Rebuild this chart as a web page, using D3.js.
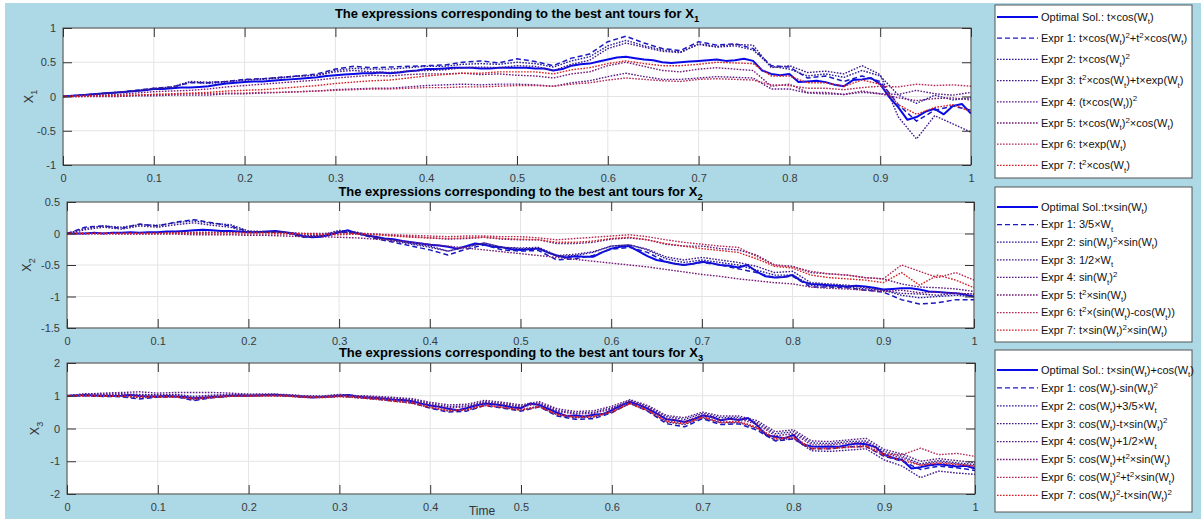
<!DOCTYPE html>
<html>
<head>
<meta charset="utf-8">
<script src="https://cdn.jsdelivr.net/npm/d3@7"></script>
<style>
  body { margin: 0; background: #fff; }
  svg { display: block; font-family: "Liberation Sans", Arial, sans-serif; }
</style>
</head>
<body>
<svg id="chart" width="1201" height="519"></svg>
<script>
// sample grids (time)
const tFine = d3.range(0, 101).map(i => i / 100);
const tCoarse = d3.range(0, 51).map(i => i / 50);

const xTicks = [0, 0.1, 0.2, 0.3, 0.4, 0.5, 0.6, 0.7, 0.8, 0.9, 1];
const yTicks1 = [-1, -0.5, 0, 0.5, 1];
const yTicks2 = [-1.5, -1, -0.5, 0, 0.5];
const yTicks3 = [-2, -1, 0, 1, 2];

// ---- X1 ----
const x1Opt = [0,0.01,0.02,0.03,0.04,0.05,0.06,0.07,0.08,0.09,
  0.11,0.11,0.12,0.13,0.13,0.14,0.15,0.17,0.19,0.20,
  0.21,0.22,0.22,0.23,0.24,0.25,0.26,0.27,0.28,0.30,
  0.31,0.32,0.33,0.34,0.34,0.35,0.34,0.35,0.37,0.38,
  0.40,0.40,0.41,0.42,0.42,0.42,0.41,0.41,0.42,0.42,
  0.42,0.42,0.41,0.41,0.38,0.40,0.45,0.47,0.48,0.51,
  0.54,0.57,0.58,0.56,0.54,0.53,0.50,0.49,0.50,0.51,
  0.52,0.53,0.54,0.52,0.53,0.55,0.52,0.38,0.33,0.31,
  0.33,0.21,0.22,0.23,0.21,0.17,0.15,0.24,0.25,0.27,
  0.18,-0.01,-0.16,-0.34,-0.30,-0.22,-0.18,-0.26,-0.14,-0.11,
  -0.25];
const x1Expr1 = [0,0.02,0.04,0.06,0.09,0.12,0.14,0.20,0.20,0.22,
  0.25,0.26,0.28,0.30,0.33,0.40,0.44,0.42,0.43,0.44,
  0.45,0.46,0.50,0.52,0.49,0.55,0.51,0.45,0.56,0.62,
  0.80,0.88,0.78,0.70,0.67,0.80,0.75,0.77,0.70,0.45,
  0.43,0.27,0.30,0.22,0.30,0.22,-0.12,-0.36,-0.20,-0.14,
  -0.20];
const x1Expr2 = [0,0.02,0.04,0.06,0.08,0.11,0.13,0.21,0.19,0.21,
  0.24,0.25,0.27,0.30,0.31,0.38,0.41,0.40,0.40,0.42,
  0.44,0.44,0.47,0.48,0.47,0.50,0.48,0.43,0.52,0.58,
  0.74,0.82,0.74,0.68,0.65,0.76,0.72,0.74,0.68,0.44,
  0.40,0.30,0.33,0.28,0.38,0.30,0.02,-0.10,0.02,-0.05,
  -0.02];
const x1Expr3 = [0,0.02,0.04,0.06,0.08,0.12,0.14,0.22,0.21,0.22,
  0.24,0.26,0.28,0.30,0.31,0.36,0.38,0.36,0.35,0.37,
  0.38,0.39,0.42,0.43,0.42,0.45,0.44,0.38,0.47,0.53,
  0.70,0.78,0.72,0.66,0.64,0.77,0.73,0.76,0.75,0.42,
  0.45,0.35,0.37,0.33,0.45,0.32,-0.30,-0.62,-0.28,-0.40,
  -0.52];
const x1Expr4 = [0,0,0,0,0.01,0.01,0.02,0.02,0.02,0.04,
  0.04,0.05,0.06,0.07,0.08,0.10,0.11,0.12,0.12,0.14,
  0.16,0.17,0.18,0.17,0.18,0.18,0.17,0.15,0.20,0.23,
  0.29,0.34,0.29,0.25,0.25,0.27,0.29,0.28,0.27,0.11,
  0.11,0.05,0.04,0.03,0.06,0.04,0.03,0.09,0.04,0.02,
  0.06];
const x1Expr5 = [0,0.01,0.02,0.03,0.05,0.07,0.08,0.09,0.11,0.14,
  0.16,0.18,0.20,0.22,0.24,0.27,0.29,0.31,0.30,0.32,
  0.33,0.33,0.34,0.32,0.33,0.31,0.30,0.27,0.33,0.36,
  0.45,0.50,0.44,0.38,0.36,0.40,0.42,0.40,0.38,0.15,
  0.18,0.06,0.06,0.03,0.08,0.04,-0.02,-0.06,-0.03,-0.02,
  -0.05];
const x1Expr6 = [0,0.01,0.01,0.02,0.02,0.03,0.03,0.04,0.04,0.05,
  0.05,0.06,0.06,0.07,0.08,0.09,0.10,0.11,0.11,0.12,
  0.13,0.13,0.14,0.14,0.15,0.16,0.16,0.15,0.18,0.20,
  0.24,0.27,0.25,0.23,0.22,0.25,0.26,0.25,0.24,0.17,
  0.16,0.12,0.12,0.10,0.13,0.15,0.14,0.18,0.16,0.17,
  0.15];
const x1Expr7 = [0,0,0.01,0.01,0.02,0.03,0.04,0.05,0.06,0.08,
  0.09,0.10,0.12,0.14,0.16,0.19,0.21,0.23,0.24,0.27,
  0.30,0.32,0.34,0.34,0.36,0.36,0.36,0.33,0.39,0.42,
  0.48,0.52,0.48,0.45,0.45,0.47,0.50,0.49,0.48,0.30,
  0.30,0.20,0.20,0.15,0.24,0.18,-0.12,-0.26,-0.16,-0.12,
  -0.22];

// ---- X2 ----
const x2Opt = [0,0,0,0.01,0,0.01,0.01,0.02,0.01,0.02,
  0.02,0.03,0.03,0.04,0.05,0.06,0.05,0.04,0.04,0.03,
  0.02,0.02,0.03,0.04,0.02,0,-0.04,-0.06,-0.05,-0.02,
  0.02,0.05,0,-0.03,-0.05,-0.08,-0.09,-0.12,-0.14,-0.16,
  -0.18,-0.19,-0.21,-0.24,-0.20,-0.16,-0.18,-0.21,-0.22,-0.25,
  -0.26,-0.25,-0.24,-0.30,-0.35,-0.38,-0.36,-0.37,-0.37,-0.30,
  -0.24,-0.21,-0.20,-0.28,-0.36,-0.42,-0.45,-0.48,-0.50,-0.48,
  -0.45,-0.47,-0.50,-0.51,-0.54,-0.50,-0.60,-0.68,-0.70,-0.69,
  -0.66,-0.76,-0.80,-0.81,-0.82,-0.83,-0.84,-0.83,-0.84,-0.86,
  -0.89,-0.88,-0.87,-0.87,-0.89,-0.92,-0.93,-0.94,-0.95,-0.97,
  -1.00];
const x2Expr1 = [0,0.10,0.12,0.08,0.15,0.12,0.18,0.22,0.17,0.12,
  0.03,0.02,0.02,-0.06,-0.04,0.03,0,-0.08,-0.14,-0.20,
  -0.26,-0.34,-0.25,-0.18,-0.26,-0.28,-0.27,-0.42,-0.40,-0.35,
  -0.25,-0.22,-0.30,-0.45,-0.50,-0.46,-0.50,-0.56,-0.62,-0.70,
  -0.68,-0.85,-0.85,-0.86,-0.90,-0.93,-1.05,-1.12,-1.10,-1.05,
  -1.05];
const x2Expr2 = [0,0.08,0.12,0.10,0.14,0.13,0.17,0.20,0.16,0.14,
  0.04,0.03,0.02,-0.05,-0.03,0.05,0.02,-0.06,-0.10,-0.16,
  -0.20,-0.28,-0.22,-0.15,-0.22,-0.24,-0.24,-0.36,-0.35,-0.30,
  -0.20,-0.18,-0.26,-0.40,-0.46,-0.42,-0.46,-0.50,-0.58,-0.66,
  -0.66,-0.82,-0.84,-0.85,-0.88,-0.90,-0.98,-1.02,-1.00,-0.98,
  -1.00];
const x2Expr3 = [0,0.06,0.10,0.07,0.12,0.10,0.14,0.17,0.13,0.10,
  0.02,0.02,0.02,-0.04,-0.03,0.03,0,-0.06,-0.12,-0.17,
  -0.22,-0.28,-0.21,-0.15,-0.22,-0.23,-0.22,-0.35,-0.33,-0.29,
  -0.20,-0.18,-0.25,-0.37,-0.42,-0.38,-0.42,-0.46,-0.52,-0.62,
  -0.60,-0.78,-0.80,-0.82,-0.86,-0.90,-0.95,-0.96,-0.98,-0.95,
  -0.96];
const x2Expr4 = [0,0,0,0.01,0.01,0.01,0.02,0.02,0.02,0.02,
  0.02,0.02,0.02,0,0,0.01,0.01,-0.01,-0.03,-0.05,
  -0.07,-0.09,-0.08,-0.06,-0.09,-0.10,-0.10,-0.16,-0.16,-0.14,
  -0.09,-0.07,-0.10,-0.17,-0.20,-0.20,-0.24,-0.26,-0.34,-0.50,
  -0.52,-0.62,-0.64,-0.66,-0.70,-0.72,-0.80,-0.85,-0.86,-0.88,
  -0.92];
const x2Expr5 = [0,0,0,-0.01,-0.01,-0.01,-0.01,-0.02,-0.02,-0.02,
  -0.03,-0.03,-0.04,-0.05,-0.05,-0.06,-0.07,-0.09,-0.11,-0.14,
  -0.17,-0.20,-0.23,-0.26,-0.29,-0.32,-0.35,-0.38,-0.41,-0.44,
  -0.47,-0.50,-0.53,-0.57,-0.61,-0.65,-0.68,-0.72,-0.75,-0.78,
  -0.80,-0.85,-0.87,-0.88,-0.90,-0.92,-0.90,-0.94,-0.93,-0.95,
  -0.96];
const x2Expr6 = [0,0,0,0,0,0,0,0,-0.01,-0.01,
  -0.01,-0.01,-0.01,-0.01,-0.02,-0.02,-0.01,-0.01,-0.02,-0.03,
  -0.04,-0.05,-0.04,-0.04,-0.05,-0.05,-0.07,-0.10,-0.08,-0.06,
  -0.04,-0.02,-0.05,-0.10,-0.14,-0.17,-0.20,-0.22,-0.36,-0.50,
  -0.53,-0.60,-0.64,-0.66,-0.70,-0.72,-0.50,-0.60,-0.70,-0.62,
  -0.74];
const x2Expr7 = [0,0,0,0,0,0,0.01,0.01,0.01,0.01,
  0.01,0.01,0,0,-0.01,-0.01,0,-0.02,-0.04,-0.06,
  -0.07,-0.08,-0.07,-0.06,-0.08,-0.09,-0.10,-0.14,-0.14,-0.12,
  -0.08,-0.06,-0.10,-0.16,-0.20,-0.24,-0.27,-0.30,-0.40,-0.52,
  -0.55,-0.66,-0.70,-0.72,-0.74,-0.78,-0.62,-0.82,-0.66,-0.74,
  -0.86];

// ---- X3 ----
const x3Opt = [1,1.01,1.02,1.01,1.00,0.99,1.00,1.02,0.99,0.98,
  0.98,0.99,0.98,0.96,0.92,0.94,0.96,0.98,1.00,1.01,
  1.00,1.01,1.02,1.03,1.01,0.99,0.97,0.95,0.96,0.98,
  1.00,1.02,0.97,0.95,0.93,0.91,0.88,0.87,0.83,0.76,
  0.70,0.66,0.60,0.56,0.62,0.70,0.76,0.74,0.70,0.65,
  0.62,0.76,0.72,0.60,0.48,0.38,0.40,0.37,0.42,0.44,
  0.56,0.70,0.81,0.72,0.60,0.45,0.28,0.25,0.20,0.28,
  0.40,0.35,0.25,0.30,0.26,0.32,0.10,-0.20,-0.25,-0.30,
  -0.20,-0.48,-0.55,-0.56,-0.55,-0.56,-0.50,-0.46,-0.48,-0.56,
  -0.80,-0.90,-0.96,-1.22,-1.18,-1.12,-1.09,-1.12,-1.16,-1.14,
  -1.22];
const x3Expr1 = [1,1.00,0.98,0.97,0.90,0.96,0.97,0.85,0.94,0.99,
  1.00,1.01,1.00,0.96,0.95,0.99,0.95,0.90,0.84,0.78,
  0.62,0.50,0.53,0.70,0.62,0.53,0.66,0.38,0.28,0.30,
  0.48,0.78,0.52,0.15,0.05,0.30,0.12,0.14,-0.05,-0.38,
  -0.32,-0.62,-0.62,-0.56,-0.55,-0.85,-1.00,-1.25,-1.15,-1.20,
  -1.28];
const x3Expr2 = [1,1.06,1.05,1.06,1.04,1.03,1.04,0.98,1.02,1.04,
  1.04,1.05,1.04,1.00,0.99,1.04,1.00,0.97,0.93,0.88,
  0.76,0.67,0.69,0.82,0.76,0.68,0.78,0.55,0.47,0.49,
  0.63,0.86,0.66,0.36,0.28,0.46,0.33,0.34,0.18,-0.16,
  -0.10,-0.44,-0.46,-0.40,-0.38,-0.70,-0.85,-1.08,-0.98,-1.05,
  -1.10];
const x3Expr3 = [1,1.00,0.99,0.98,0.94,0.97,0.97,0.88,0.95,0.99,
  0.99,1.00,1.00,0.96,0.95,0.98,0.94,0.90,0.84,0.78,
  0.64,0.54,0.56,0.72,0.64,0.56,0.68,0.42,0.33,0.35,
  0.50,0.76,0.54,0.20,0.12,0.33,0.17,0.18,0.00,-0.36,
  -0.30,-0.68,-0.70,-0.66,-0.62,-0.96,-1.15,-1.50,-1.30,-1.36,
  -1.40];
const x3Expr4 = [1,1.05,1.08,1.10,1.12,1.08,1.10,1.10,1.10,1.08,
  1.05,1.05,1.03,1.00,0.98,1.03,1.00,0.98,0.95,0.91,
  0.80,0.72,0.74,0.86,0.80,0.72,0.82,0.60,0.52,0.54,
  0.68,0.88,0.70,0.40,0.33,0.50,0.38,0.38,0.24,-0.10,
  -0.04,-0.38,-0.40,-0.35,-0.30,-0.64,-0.78,-1.00,-0.92,-0.98,
  -1.05];
const x3Expr5 = [1,1.02,1.03,1.04,1.02,1.01,1.02,0.95,1.00,1.02,
  1.02,1.03,1.02,0.98,0.97,1.02,0.99,0.95,0.90,0.85,
  0.73,0.63,0.66,0.79,0.73,0.66,0.76,0.52,0.44,0.46,
  0.60,0.84,0.63,0.31,0.22,0.42,0.27,0.29,0.13,-0.22,
  -0.16,-0.50,-0.50,-0.45,-0.42,-0.76,-0.90,-1.12,-1.02,-1.08,
  -1.15];
const x3Expr6 = [1,1.01,1.00,0.99,0.98,0.97,0.98,0.92,0.96,0.99,
  1.00,1.01,1.00,0.97,0.96,0.99,0.96,0.92,0.86,0.80,
  0.66,0.56,0.58,0.72,0.66,0.58,0.68,0.44,0.36,0.38,
  0.52,0.78,0.55,0.24,0.16,0.36,0.20,0.22,0.04,-0.30,
  -0.25,-0.60,-0.60,-0.55,-0.52,-0.78,-0.80,-0.60,-0.80,-0.76,
  -0.85];
const x3Expr7 = [1,1.00,0.98,0.98,0.96,0.96,0.96,0.90,0.94,0.98,
  0.98,0.99,0.99,0.95,0.94,0.97,0.94,0.89,0.83,0.77,
  0.64,0.54,0.56,0.70,0.64,0.56,0.66,0.42,0.34,0.36,
  0.50,0.76,0.54,0.22,0.14,0.34,0.18,0.20,0.02,-0.32,
  -0.28,-0.62,-0.62,-0.58,-0.55,-0.82,-0.98,-1.12,-1.06,-1.10,
  -1.15];

// legend texts (_{..} subscript, ^{..} superscript)
const legend1 = [
  "Optimal Sol.: t×cos(W_{t})",
  "Expr 1: t×cos(W_{t})^{2}+t^{2}×cos(W_{t})",
  "Expr 2: t×cos(W_{t})^{2}",
  "Expr 3: t^{2}×cos(W_{t})+t×exp(W_{t})",
  "Expr 4: (t×cos(W_{t}))^{2}",
  "Expr 5: t×cos(W_{t})^{2}×cos(W_{t})",
  "Expr 6: t×exp(W_{t})",
  "Expr 7: t^{2}×cos(W_{t})"
];
const legend2 = [
  "Optimal Sol.:t×sin(W_{t})",
  "Expr 1: 3/5×W_{t}",
  "Expr 2: sin(W_{t})^{2}×sin(W_{t})",
  "Expr 3: 1/2×W_{t}",
  "Expr 4:  sin(W_{t})^{2}",
  "Expr 5:  t^{2}×sin(W_{t})",
  "Expr 6: t^{2}×(sin(W_{t})-cos(W_{t}))",
  "Expr 7: t×sin(W_{t})^{2}×sin(W_{t})"
];
const legend3 = [
  "Optimal Sol.: t×sin(W_{t})+cos(W_{t})",
  "Expr 1: cos(W_{t})-sin(W_{t})^{2}",
  "Expr 2: cos(W_{t})+3/5×W_{t}",
  "Expr 3: cos(W_{t})-t×sin(W_{t})^{2}",
  "Expr 4: cos(W_{t})+1/2×W_{t}",
  "Expr 5: cos(W_{t})+t^{2}×sin(W_{t})",
  "Expr 6: cos(W_{t})^{2}+t^{2}×sin(W_{t})",
  "Expr 7: cos(W_{t})^{2}-t×sin(W_{t})^{2}"
];

const seriesColors = ["#0a0ae8", "#1a1ac4", "#281a9c", "#3e1a8e", "#5a1a86", "#761c78", "#b42852", "#d81f22"];
const seriesDash = [null, "5,3", "1.6,1.4", "1.6,1.4", "1.6,1.4", "1.6,1.4", "1.6,1.4", "1.6,1.4"];
const seriesWidth = [2, 1.5, 1.4, 1.4, 1.4, 1.4, 1.4, 1.4];

const svg = d3.select('#chart');

// background
svg.append('rect').attr('x', 5).attr('y', 3).attr('width', 1196).attr('height', 516).attr('fill', '#add8e6');

// writes a label with sub/superscripts as tspans
const richText = (sel, str, size) => {
    const parts = str.split(/(_\{[^}]*\}|\^\{[^}]*\})/).filter(s => s.length);
    let off = 0;
    parts.forEach(p => {
        let target = 0, txt = p, fs = size;
        if (p[0] === '_') { target = size * 0.3; txt = p.slice(2, -1); fs = size * 0.72; }
        else if (p[0] === '^') { target = -size * 0.38; txt = p.slice(2, -1); fs = size * 0.72; }
        sel.append('tspan').attr('dy', target - off).attr('font-size', fs).text(txt);
        off = target;
    });
};

const panels = [
    { left: 63, right: 971, top: 28, bottom: 165, yDomain: [-1, 1], yTicks: yTicks1,
      opt: x1Opt, exprs: [x1Expr1, x1Expr2, x1Expr3, x1Expr4, x1Expr5, x1Expr6, x1Expr7],
      name: "1", titleY: 18, labelX: 33, legend: legend1,
      box: { x: 995, y: 5, w: 197, h: 173, first: 17, step: 21.2 } },
    { left: 67, right: 974, top: 202, bottom: 328, yDomain: [-1.5, 0.5], yTicks: yTicks2,
      opt: x2Opt, exprs: [x2Expr1, x2Expr2, x2Expr3, x2Expr4, x2Expr5, x2Expr6, x2Expr7],
      name: "2", titleY: 196, labelX: 31, legend: legend2,
      box: { x: 995, y: 187, w: 197, h: 155, first: 207, step: 17.6 } },
    { left: 67, right: 975, top: 363, bottom: 494, yDomain: [-2, 2], yTicks: yTicks3,
      opt: x3Opt, exprs: [x3Expr1, x3Expr2, x3Expr3, x3Expr4, x3Expr5, x3Expr6, x3Expr7],
      name: "3", titleY: 357, labelX: 39, legend: legend3,
      box: { x: 995, y: 350, w: 197, h: 162, first: 370, step: 17.9 } }
];

const tickLen = 9;

panels.forEach((p, pi) => {
    const x = d3.scaleLinear().domain([0, 1]).range([p.left, p.right]);
    const y = d3.scaleLinear().domain(p.yDomain).range([p.bottom, p.top]);
    const g = svg.append('g');

    g.append('rect')
        .attr('x', p.left).attr('y', p.top)
        .attr('width', p.right - p.left).attr('height', p.bottom - p.top)
        .attr('fill', '#fff');

    // grid
    g.append('g').selectAll('line').data(xTicks).join('line')
        .attr('x1', d => x(d)).attr('x2', d => x(d))
        .attr('y1', p.top).attr('y2', p.bottom)
        .attr('stroke', '#e4e4e4');
    g.append('g').selectAll('line').data(p.yTicks).join('line')
        .attr('x1', p.left).attr('x2', p.right)
        .attr('y1', d => y(d)).attr('y2', d => y(d))
        .attr('stroke', '#e4e4e4');

    svg.append('clipPath').attr('id', 'clip' + pi)
        .append('rect')
        .attr('x', p.left).attr('y', p.top)
        .attr('width', p.right - p.left).attr('height', p.bottom - p.top);

    const series = [p.opt].concat(p.exprs);
    const lines = g.append('g').attr('clip-path', 'url(#clip' + pi + ')');
    series.forEach((vals, si) => {
        const tArr = si === 0 ? tFine : tCoarse;
        const line = d3.line()
            .x((d, i) => x(tArr[i]))
            .y(d => y(d));
        lines.append('path')
            .attr('d', line(vals))
            .attr('fill', 'none')
            .attr('stroke', seriesColors[si])
            .attr('stroke-width', seriesWidth[si])
            .attr('stroke-dasharray', seriesDash[si])
            .attr('stroke-linejoin', 'round');
    });

    // axes, ticks pointing inward on all four sides
    const styleAxis = a => {
        a.select('.domain').remove();
        a.selectAll('.tick line').attr('stroke', '#333');
        a.selectAll('.tick text').attr('fill', '#3a3a3a').attr('font-size', 11)
            .attr('font-family', '"Liberation Sans", Arial, sans-serif');
    };
    g.append('g').attr('transform', `translate(0,${p.bottom})`)
        .call(d3.axisBottom(x).tickValues(xTicks).tickFormat(d => String(d))
            .tickSizeInner(-tickLen).tickSizeOuter(0).tickPadding(9.5))
        .call(styleAxis);
    g.append('g').attr('transform', `translate(0,${p.top})`)
        .call(d3.axisTop(x).tickValues(xTicks).tickFormat('')
            .tickSizeInner(-tickLen).tickSizeOuter(0))
        .call(styleAxis);
    g.append('g').attr('transform', `translate(${p.left},0)`)
        .call(d3.axisLeft(y).tickValues(p.yTicks).tickFormat(d => String(d))
            .tickSizeInner(-tickLen).tickSizeOuter(0).tickPadding(7))
        .call(styleAxis);
    g.append('g').attr('transform', `translate(${p.right},0)`)
        .call(d3.axisRight(y).tickValues(p.yTicks).tickFormat('')
            .tickSizeInner(-tickLen).tickSizeOuter(0))
        .call(styleAxis);

    g.append('rect')
        .attr('x', p.left).attr('y', p.top)
        .attr('width', p.right - p.left).attr('height', p.bottom - p.top)
        .attr('fill', 'none').attr('stroke', '#333').attr('stroke-width', 0.9);

    // title
    const title = g.append('text')
        .attr('x', (p.left + p.right) / 2).attr('y', p.titleY)
        .attr('text-anchor', 'middle')
        .attr('font-weight', 'bold').attr('fill', '#000');
    richText(title, "The expressions corresponding to the best ant tours for X_{" + p.name + "}", 13);

    // y label
    const yl = g.append('text')
        .attr('transform', `translate(${p.labelX},${(p.top + p.bottom) / 2}) rotate(-90)`)
        .attr('text-anchor', 'middle').attr('fill', '#333');
    richText(yl, "X_{" + p.name + "}", 12.5);

    // legend
    const b = p.box;
    const lg = svg.append('g');
    lg.append('rect')
        .attr('x', b.x).attr('y', b.y).attr('width', b.w).attr('height', b.h)
        .attr('fill', '#fff').attr('stroke', '#555').attr('stroke-width', 1);
    p.legend.forEach((lab, li) => {
        const ly = b.first + li * b.step;
        lg.append('line')
            .attr('x1', b.x + 2).attr('x2', b.x + 43)
            .attr('y1', ly).attr('y2', ly)
            .attr('stroke', seriesColors[li])
            .attr('stroke-width', li === 0 ? 1.8 : 1.3)
            .attr('stroke-dasharray', seriesDash[li]);
        const t = lg.append('text')
            .attr('x', b.x + 46).attr('y', ly + 3.8)
            .attr('fill', '#111');
        richText(t, lab, 11);
    });
});

svg.append('text')
    .attr('x', 482).attr('y', 515)
    .attr('text-anchor', 'middle')
    .attr('font-size', 12).attr('fill', '#333')
    .text('Time');
</script>
</body>
</html>
